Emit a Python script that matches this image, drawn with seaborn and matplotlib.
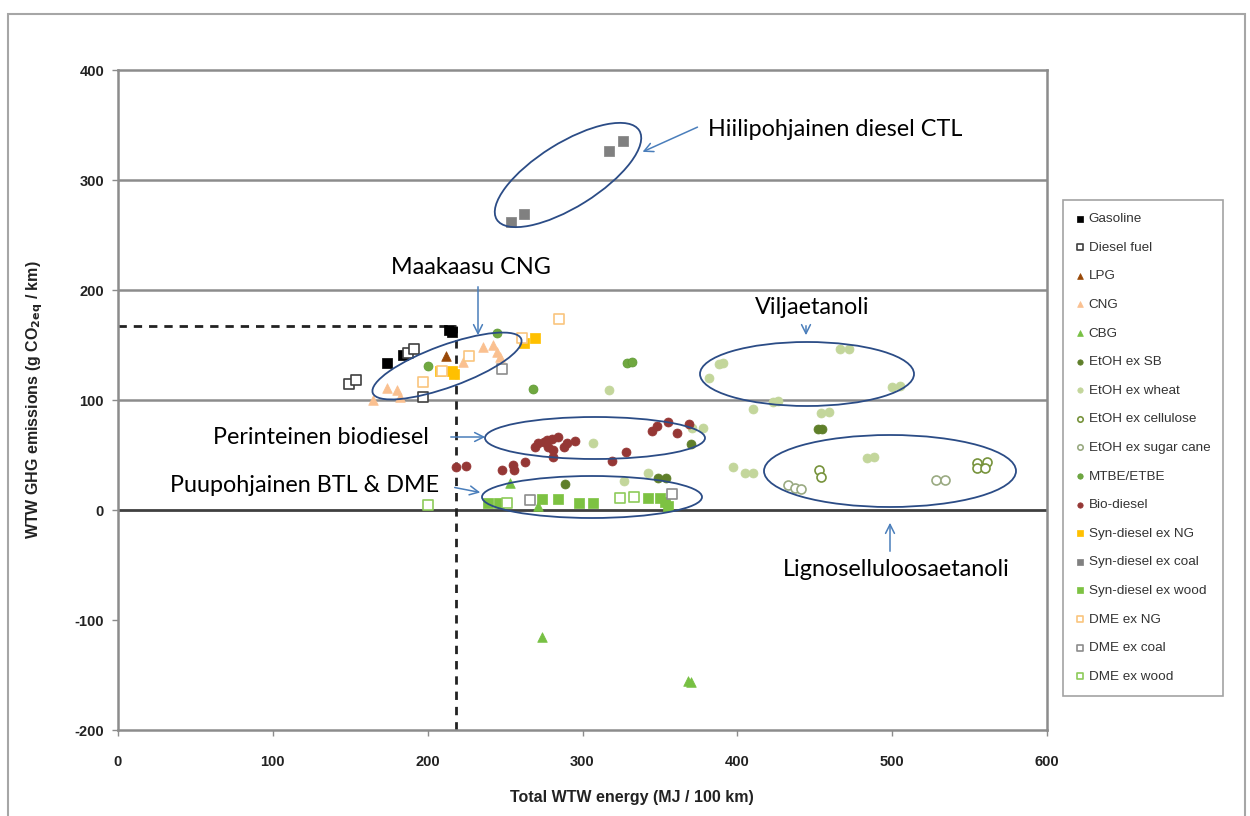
import matplotlib
matplotlib.use("Agg")
import matplotlib.pyplot as plt
import matplotlib.transforms as mtransforms
from matplotlib.patches import Ellipse, Rectangle
import seaborn as sns

# ---------------- data ----------------
gasoline_x = [174, 184, 214, 216]
gasoline_y = [134, 141, 164, 162]
diesel_x = [149, 154, 187, 191, 197]
diesel_y = [115, 118, 143, 146, 103]
lpg_x = [212]
lpg_y = [140]
cng_x = [165, 174, 180, 182, 223, 236, 242, 245, 247]
cng_y = [100, 111, 109, 103, 135, 148, 150, 144, 139]
cbg_x = [253, 271, 274, 368, 370]
cbg_y = [25, 4, -115, -155, -156]
etoh_sb_x = [289, 349, 354, 370, 452, 455]
etoh_sb_y = [24, 29, 29, 60, 74, 74]
etoh_wheat_x = [317, 307, 382, 388, 391, 466, 472, 500, 505, 423, 426, 410,
                454, 459, 378, 371, 397, 405, 410, 484, 488, 327, 342]
etoh_wheat_y = [109, 61, 120, 133, 134, 146, 146, 112, 113, 98, 99, 92,
                88, 89, 75, 75, 39, 34, 34, 47, 48, 26, 34]
etoh_cell_x = [453, 454, 555, 561, 555, 560]
etoh_cell_y = [36, 30, 43, 44, 38, 38]
etoh_cane_x = [433, 437, 441, 528, 534]
etoh_cane_y = [23, 20, 19, 27, 27]
mtbe_x = [200, 245, 268, 329, 332]
mtbe_y = [131, 161, 110, 134, 135]
biodiesel_x = [218, 225, 248, 255, 256, 263, 269, 271, 275, 277, 280, 284, 278,
               281, 281, 288, 290, 295, 319, 328, 345, 348, 355, 361, 369]
biodiesel_y = [39, 40, 36, 41, 36, 44, 57, 61, 62, 64, 65, 66, 57,
               55, 48, 57, 61, 63, 45, 53, 72, 76, 80, 70, 78]
syn_ng_x = [208, 216, 217, 262, 269]
syn_ng_y = [126, 126, 124, 152, 156]
syn_coal_x = [254, 262, 317, 326]
syn_coal_y = [262, 269, 326, 335]
syn_wood_x = [239, 246, 274, 284, 298, 307, 342, 350, 353, 355]
syn_wood_y = [6, 6, 10, 10, 6, 6, 11, 11, 7, 4]
dme_ng_x = [197, 209, 227, 261, 285]
dme_ng_y = [116, 126, 140, 156, 174]
dme_coal_x = [248, 266, 358]
dme_coal_y = [128, 9, 15]
dme_wood_x = [200, 251, 324, 333]
dme_wood_y = [5, 6, 11, 12]

ref_energy = 218
ref_ghg = 167

x_ticks = [0, 100, 200, 300, 400, 500, 600]
y_ticks = [-200, -100, 0, 100, 200, 300, 400]

# (label, x, y, marker, face, edge)
series = [
    ("Gasoline", gasoline_x, gasoline_y, "s", "#000000", "#000000"),
    ("Diesel fuel", diesel_x, diesel_y, "s", "white", "#404040"),
    ("LPG", lpg_x, lpg_y, "^", "#984807", "#984807"),
    ("CNG", cng_x, cng_y, "^", "#FAC090", "#FAC090"),
    ("CBG", cbg_x, cbg_y, "^", "#77C043", "#77C043"),
    ("EtOH ex SB", etoh_sb_x, etoh_sb_y, "o", "#5F7F2A", "#5F7F2A"),
    ("EtOH ex wheat", etoh_wheat_x, etoh_wheat_y, "o", "#C3D69B", "#C3D69B"),
    ("EtOH ex cellulose", etoh_cell_x, etoh_cell_y, "o", "white", "#77933C"),
    ("EtOH ex sugar cane", etoh_cane_x, etoh_cane_y, "o", "white", "#9AAA82"),
    ("MTBE/ETBE", mtbe_x, mtbe_y, "o", "#70A840", "#5E9A35"),
    ("Bio-diesel", biodiesel_x, biodiesel_y, "o", "#953735", "#953735"),
    ("Syn-diesel ex NG", syn_ng_x, syn_ng_y, "s", "#FFC000", "#FFC000"),
    ("Syn-diesel ex coal", syn_coal_x, syn_coal_y, "s", "#808080", "#808080"),
    ("Syn-diesel ex wood", syn_wood_x, syn_wood_y, "s", "#7DC242", "#7DC242"),
    ("DME ex NG", dme_ng_x, dme_ng_y, "s", "white", "#F9C57E"),
    ("DME ex coal", dme_coal_x, dme_coal_y, "s", "white", "#8C8C8C"),
    ("DME ex wood", dme_wood_x, dme_wood_y, "s", "white", "#8DCB5A"),
]

# ---------------- figure ----------------
sns.set_theme(style="white")
plt.rcParams["font.family"] = ["Liberation Sans", "DejaVu Sans"]

W, H = 1250, 816
fig = plt.figure(figsize=(W / 100, H / 100), dpi=100)
ax = fig.add_axes([118 / W, 1 - 730 / H, (1047 - 118) / W, (730 - 70) / H])
ax.set_xlim(0, 600)
ax.set_ylim(-200, 400)

for yv in [100, 200, 300]:
    ax.axhline(yv, color="#8C8C8C", lw=1.8, zorder=0)
ax.axhline(0, color="#404040", lw=2.0, zorder=0.5)

for sp in ax.spines.values():
    sp.set_color("#8C8C8C")
    sp.set_linewidth(1.8)

# reference dashed lines
ax.plot([0, ref_energy], [ref_ghg, ref_ghg], color="#222222", lw=2,
        ls=(0, (3, 2.5)), zorder=1)
ax.plot([ref_energy, ref_energy], [-200, ref_ghg], color="#222222", lw=2,
        ls=(0, (3, 2.5)), zorder=1)

for i, (lab, xs, ys, mk, fc, ec) in enumerate(series):
    size = 48 if mk == "^" else 42
    lw = 1.2 if fc == "white" else 0.5
    sns.scatterplot(x=xs, y=ys, marker=mk, color=fc, edgecolor=ec,
                    linewidth=lw, s=size, ax=ax, label=lab, zorder=3 + i * 0.01)

handles, labels = ax.get_legend_handles_labels()
ax.get_legend().remove()

ax.set_xticks(x_ticks)
ax.set_yticks(y_ticks)
ax.set_xticklabels([str(v) for v in x_ticks])
ax.set_yticklabels([str(v) for v in y_ticks])
ax.tick_params(axis="both", which="major", length=4, width=1, color="#8C8C8C",
               labelsize=10.5, labelcolor="#222222", left=True, bottom=True)
ax.tick_params(axis="x", pad=14)
ax.tick_params(axis="y", pad=6)
for t in ax.get_xticklabels() + ax.get_yticklabels():
    t.set_fontweight("bold")

ax.set_xlabel("Total WTW energy (MJ / 100 km)", fontsize=11.5, fontweight="bold",
              color="#222222")
ax.xaxis.set_label_coords((632 - 118) / 929, (730 - 790) / 660)
ax.set_ylabel(r"WTW GHG emissions (g CO$_\mathbf{2eq}$ / km)", fontsize=11.5,
              fontweight="bold", color="#222222")
ax.yaxis.set_label_coords((45 - 118) / 929, 0.5)

leg = fig.legend(handles, labels, loc="upper left",
                 bbox_to_anchor=(1063 / W, 1 - 200 / H),
                 bbox_transform=fig.transFigure, frameon=True, fancybox=False,
                 edgecolor="#8C8C8C", fontsize=9.7, labelspacing=1.2,
                 handlelength=0.6, handletextpad=0.35, borderpad=0.95,
                 borderaxespad=0, markerscale=0.6)
leg.get_frame().set_linewidth(1.2)
for t in leg.get_texts():
    t.set_color("#333333")

# ---------------- annotations ----------------
def px2data(px, py):
    return ((px - 118) / (929 / 600), (510 - py) / 1.1)

def ellipse(cpx, cpy, a, b, ang):
    cx, cy = px2data(cpx, cpy)
    tr = fig.dpi_scale_trans + mtransforms.ScaledTranslation(cx, cy, ax.transData)
    e = Ellipse((0, 0), 2 * a / 100, 2 * b / 100, angle=ang, transform=tr,
                fill=False, edgecolor="#2B4C86", lw=1.3, zorder=5)
    ax.add_artist(e)

ellipse(568, 175, 84, 32, 32)
ellipse(447, 366, 79, 21, 20)
ellipse(807, 374, 107, 32, 0)
ellipse(595, 438, 110, 21, 0)
ellipse(592, 497, 110, 21, 0)
ellipse(890, 471, 126, 36, 0)

afont = dict(family=["Lato", "DejaVu Sans"], fontsize=16.8, color="black", zorder=6)
texts = [
    ("Hiilipohjainen diesel CTL", 708, 130),
    ("Maakaasu CNG", 391, 268),
    ("Viljaetanoli", 755, 307),
    ("Perinteinen biodiesel", 213, 437),
    ("Puupohjainen BTL & DME", 170, 486),
    ("Lignoselluloosaetanoli", 783, 570),
]
for s, px, py in texts:
    x, y = px2data(px, py)
    ax.text(x, y, s, ha="left", va="center", **afont)

arrows = [
    ((700, 126), (640, 153)),
    ((478, 284), (478, 338)),
    ((806, 323), (806, 338)),
    ((448, 437), (488, 437)),
    ((452, 487), (483, 493)),
    ((890, 554), (890, 520)),
]
for (p0, p1) in arrows:
    ax.annotate("", xy=px2data(*p1), xytext=px2data(*p0),
                arrowprops=dict(arrowstyle="->", color="#4A7EBB", lw=1.1,
                                mutation_scale=16), zorder=6)

# outer frame
fig.patches.append(Rectangle((8 / W, -0.01), (1245 - 8) / W, 1.01 - 14 / H,
                             transform=fig.transFigure, fill=False,
                             edgecolor="#A6A6A6", lw=1.5))

fig.savefig("out.png", dpi=100)
